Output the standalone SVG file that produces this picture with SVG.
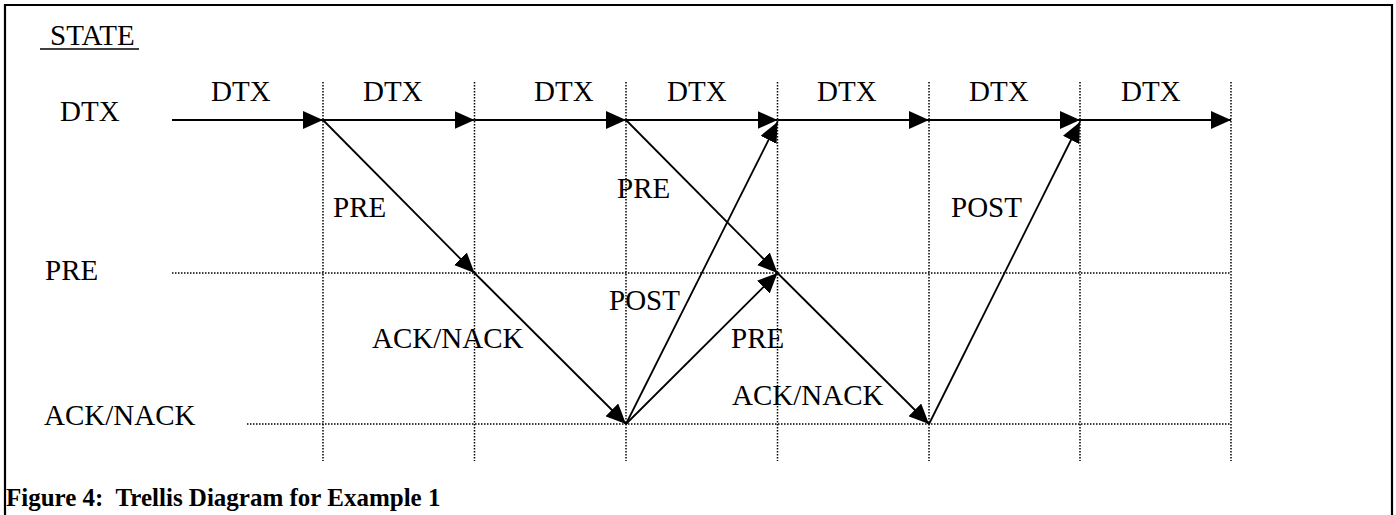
<svg xmlns="http://www.w3.org/2000/svg" width="1396" height="515" viewBox="0 0 1396 515">
  <defs>
    <marker id="head" viewBox="0 0 20 18" refX="20" refY="9" markerWidth="20" markerHeight="18" markerUnits="userSpaceOnUse" orient="auto">
      <path d="M0,0 L20,9 L0,18 z" fill="#000"/>
    </marker>
    <style>
      text { font-family: "Liberation Serif", "Times New Roman", serif; font-size: 29px; fill: #000; }
      .title { font-weight: bold; font-size: 25px; white-space: pre; }
      .grid line { stroke: #000; stroke-width: 1.5; stroke-dasharray: 1.5 1.5; }
      .edges line { stroke: #000; stroke-width: 1.8; marker-end: url(#head); }
    </style>
  </defs>

  <rect width="1396" height="515" fill="#fff"/>
  <!-- frame (bottom edge runs past the page) -->
  <path d="M5,520 V5 H1392 V520" fill="none" stroke="#000" stroke-width="2.2"/>

  <!-- dotted time/state grid -->
  <g class="grid">
    <line x1="323" y1="82" x2="323" y2="461"/>
    <line x1="474.5" y1="82" x2="474.5" y2="461"/>
    <line x1="626" y1="82" x2="626" y2="461"/>
    <line x1="777.5" y1="82" x2="777.5" y2="461"/>
    <line x1="929" y1="82" x2="929" y2="461"/>
    <line x1="1080" y1="82" x2="1080" y2="461"/>
    <line x1="1231" y1="82" x2="1231" y2="461"/>
    <line x1="172" y1="273" x2="1231" y2="273"/>
    <line x1="247" y1="424" x2="1231" y2="424"/>
  </g>

  <!-- state labels -->
  <g id="state-header">
    <text x="50" y="45">STATE</text>
    <line x1="40" y1="49" x2="139" y2="49" stroke="#000" stroke-width="1.6"/>
  </g>
  <g id="state-dtx"><text x="60" y="121">DTX</text></g>
  <g id="state-pre"><text x="45" y="280">PRE</text></g>
  <g id="state-ack"><text x="44" y="425">ACK/NACK</text></g>

  <!-- transitions -->
  <g class="edges" id="connectors">
    <line x1="172" y1="120" x2="323" y2="120"/>
    <line x1="323" y1="120" x2="474.5" y2="120"/>
    <line x1="474.5" y1="120" x2="626" y2="120"/>
    <line x1="626" y1="120" x2="777.5" y2="120"/>
    <line x1="777.5" y1="120" x2="929" y2="120"/>
    <line x1="929" y1="120" x2="1080" y2="120"/>
    <line x1="1080" y1="120" x2="1231" y2="120"/>
    <line x1="323" y1="120" x2="474.5" y2="273"/>
    <line x1="474.5" y1="273" x2="626" y2="424"/>
    <line x1="626" y1="424" x2="777.5" y2="122"/>
    <line x1="626" y1="424" x2="777.5" y2="273"/>
    <line x1="626" y1="120" x2="777.5" y2="273"/>
    <line x1="777.5" y1="273" x2="929" y2="424"/>
    <line x1="929" y1="424" x2="1080" y2="122"/>
  </g>

  <!-- transition labels -->
  <g id="edge-labels">
    <text x="211" y="101">DTX</text>
    <text x="363" y="101">DTX</text>
    <text x="534" y="101">DTX</text>
    <text x="667" y="101">DTX</text>
    <text x="817" y="101">DTX</text>
    <text x="969" y="101">DTX</text>
    <text x="1121" y="101">DTX</text>
    <text x="333" y="217">PRE</text>
    <text x="617" y="198">PRE</text>
    <text x="951" y="217">POST</text>
    <text x="609" y="310">POST</text>
    <text x="372" y="348">ACK/NACK</text>
    <text x="731" y="348">PRE</text>
    <text x="732" y="405">ACK/NACK</text>
  </g>

  <text class="title" x="6" y="506">Figure 4:  Trellis Diagram for Example 1</text>
</svg>
